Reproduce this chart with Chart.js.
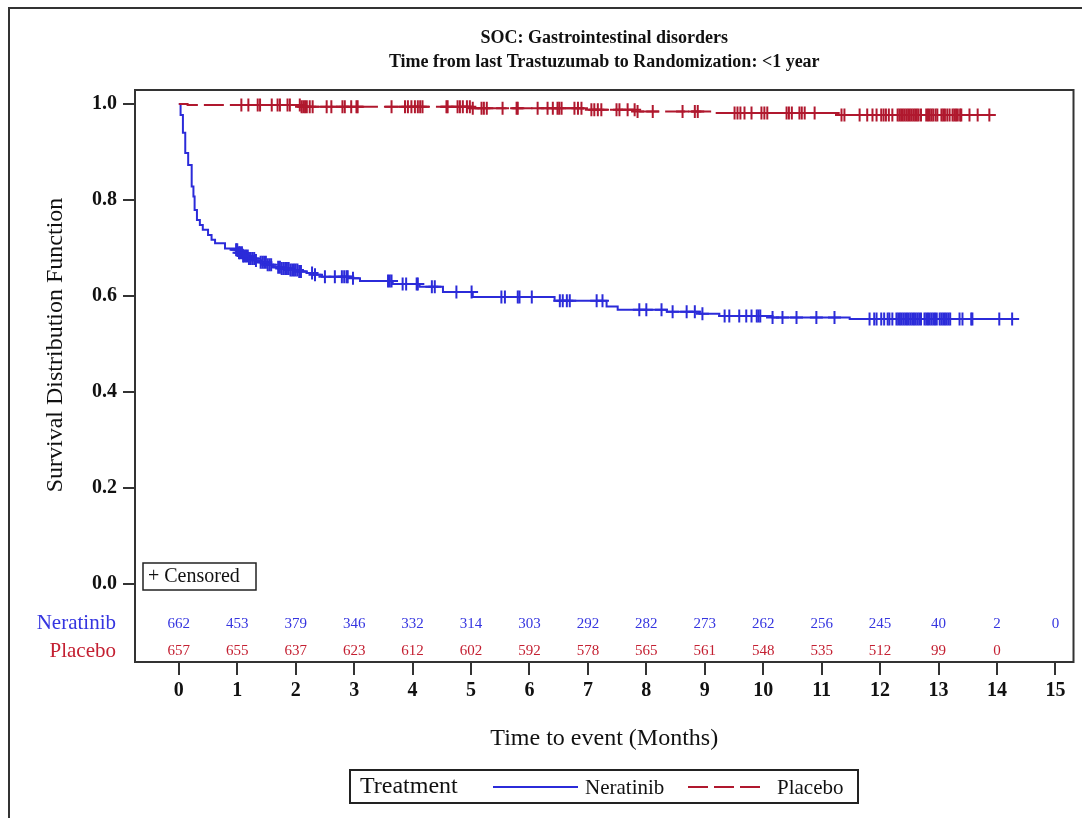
<!DOCTYPE html>
<html>
<head>
<meta charset="utf-8">
<script src="https://cdn.jsdelivr.net/npm/chart.js@4.4.1/dist/chart.umd.min.js"></script>
<style>
    body { margin: 0; background: #fff; }
    canvas { display: block; }
</style>
</head>
<body>
<canvas id="km" width="1082" height="818"></canvas>
<script>
// Hodnoty
const months = [0, 1, 2, 3, 4, 5, 6, 7, 8, 9, 10, 11, 12, 13, 14, 15];
const yTicks = [0, 0.2, 0.4, 0.6, 0.8, 1.0];

const neratinibTime = [0, 0.03, 0.07, 0.11, 0.16, 0.22, 0.25, 0.27, 0.31, 0.36, 0.41, 0.50, 0.56, 0.62, 0.79, 0.96,
    1.01, 1.10, 1.20, 1.30, 1.40, 1.51, 1.61, 1.75, 1.90, 2.05, 2.19, 2.29, 2.45, 2.98, 3.10, 3.66, 4.12, 4.52,
    5.03, 6.43, 7.32, 7.51, 8.35, 8.91, 9.25, 10.16, 11.48, 14.38];
const neratinibSurv = [1.0, 0.977, 0.94, 0.898, 0.873, 0.828, 0.807, 0.779, 0.758, 0.748, 0.738, 0.727, 0.717, 0.710, 0.699, 0.696,
    0.690, 0.683, 0.678, 0.674, 0.670, 0.665, 0.660, 0.657, 0.654, 0.651, 0.648, 0.644, 0.640, 0.637, 0.631, 0.625, 0.619, 0.608,
    0.598, 0.590, 0.578, 0.571, 0.567, 0.563, 0.558, 0.555, 0.552, 0.552];

const placeboTime = [0, 0.15, 2.10, 5.00, 6.92, 7.83, 9.17, 11.33, 13.90];
const placeboSurv = [1.0, 0.998, 0.994, 0.991, 0.988, 0.984, 0.981, 0.977, 0.977];

const neratinibCensored = [0.98, 1.00, 1.03, 1.05, 1.08, 1.10, 1.12, 1.15, 1.18, 1.20, 1.23, 1.26, 1.29, 1.32,
    1.40, 1.43, 1.46, 1.49, 1.52, 1.55, 1.58, 1.70, 1.73, 1.76, 1.79, 1.82, 1.85, 1.88, 1.91, 1.94, 1.97, 2.00,
    2.03, 2.06, 2.09, 2.28, 2.33, 2.50, 2.67, 2.79, 2.83, 2.87, 2.89, 2.98, 3.58, 3.61, 3.64, 3.83, 3.89, 4.07,
    4.09, 4.33, 4.38, 4.75, 5.01, 5.52, 5.58, 5.80, 5.83, 6.04, 6.52, 6.57, 6.64, 6.69, 7.15, 7.25, 7.88, 8.00,
    8.26, 8.45, 8.69, 8.83, 8.96, 9.34, 9.42, 9.59, 9.71, 9.80, 9.89, 9.92, 9.95, 10.16, 10.33, 10.57, 10.91,
    11.22, 11.82, 11.90, 11.94, 12.02, 12.07, 12.13, 12.16, 12.21, 12.28, 12.31, 12.34, 12.37, 12.40, 12.43,
    12.46, 12.49, 12.52, 12.55, 12.58, 12.61, 12.64, 12.67, 12.70, 12.76, 12.79, 12.82, 12.85, 12.88, 12.91,
    12.94, 12.97, 13.02, 13.05, 13.08, 13.11, 13.14, 13.17, 13.20, 13.36, 13.41, 13.56, 13.58, 14.04, 14.26];

const placeboCensored = [1.07, 1.19, 1.35, 1.39, 1.59, 1.69, 1.73, 1.86, 1.90, 2.07, 2.10, 2.13, 2.16, 2.19, 2.24,
    2.29, 2.53, 2.61, 2.80, 2.84, 2.95, 3.04, 3.06, 3.64, 3.87, 3.92, 3.98, 4.04, 4.09, 4.13, 4.17, 4.58, 4.60,
    4.77, 4.81, 4.86, 4.93, 4.98, 5.03, 5.18, 5.22, 5.27, 5.54, 5.78, 5.80, 6.14, 6.31, 6.40, 6.48, 6.51, 6.55,
    6.77, 6.83, 6.89, 7.06, 7.11, 7.17, 7.23, 7.49, 7.54, 7.68, 7.80, 7.85, 8.11, 8.62, 8.83, 8.88, 9.51, 9.56,
    9.61, 9.68, 9.80, 9.97, 10.02, 10.07, 10.40, 10.44, 10.49, 10.62, 10.66, 10.71, 10.88, 11.34, 11.39, 11.65,
    11.78, 11.87, 11.94, 12.02, 12.06, 12.10, 12.15, 12.21, 12.30, 12.33, 12.36, 12.39, 12.42, 12.45, 12.48,
    12.51, 12.54, 12.57, 12.60, 12.63, 12.66, 12.70, 12.79, 12.82, 12.85, 12.88, 12.91, 12.95, 12.98, 13.05,
    13.08, 13.11, 13.15, 13.19, 13.24, 13.27, 13.30, 13.33, 13.37, 13.39, 13.53, 13.67, 13.87];

const neratinibAtRisk = [662, 453, 379, 346, 332, 314, 303, 292, 282, 273, 262, 256, 245, 40, 2, 0];
const placeboAtRisk = [657, 655, 637, 623, 612, 602, 592, 578, 565, 561, 548, 535, 512, 99, 0];

const blue = "#2b2bd9";
const red = "#b0182e";
const serif = "'Liberation Serif', 'DejaVu Serif', serif";

function survivalAt(times, surv, t) {
    let s = surv[0];
    for (let i = 0; i < times.length; i++) {
        if (times[i] <= t) s = surv[i];
    }
    return s;
}

function toPoints(times, surv) {
    return times.map((t, i) => ({ x: t, y: surv[i] }));
}

function censorPoints(list, times, surv) {
    return list.map(t => ({ x: t, y: survivalAt(times, surv, t) }));
}

// Rámečky, titulky, tabulka rizika a legenda
const decorations = {
    id: "decorations",
    afterDraw(chart) {
        const ctx = chart.ctx;
        const area = chart.chartArea;
        const xScale = chart.scales.x;
        ctx.save();

        ctx.strokeStyle = "#333";
        ctx.lineWidth = 2;
        ctx.strokeRect(9, 8, 1100, 900);
        ctx.strokeRect(area.left, area.top, area.right - area.left, area.bottom - area.top);

        const mid = (area.left + area.right) / 2;
        ctx.fillStyle = "#111";
        ctx.textAlign = "center";
        ctx.textBaseline = "middle";
        ctx.font = "bold 18px " + serif;
        ctx.fillText("SOC: Gastrointestinal disorders", mid, 38);
        ctx.fillText("Time from last Trastuzumab to Randomization: <1 year", mid, 62);

        ctx.font = "24px " + serif;
        ctx.fillText("Time to event (Months)", mid, 739);
        ctx.save();
        ctx.translate(56, 345);
        ctx.rotate(-Math.PI / 2);
        ctx.fillText("Survival Distribution Function", 0, 0);
        ctx.restore();

        // tabulka počtu v riziku
        ctx.font = "15px " + serif;
        ctx.fillStyle = "#3535e0";
        neratinibAtRisk.forEach((n, i) => ctx.fillText(String(n), xScale.getPixelForValue(months[i]), 624));
        ctx.fillStyle = "#c42032";
        placeboAtRisk.forEach((n, i) => ctx.fillText(String(n), xScale.getPixelForValue(months[i]), 651));

        ctx.textAlign = "right";
        ctx.font = "21px " + serif;
        ctx.fillStyle = "#3535e0";
        ctx.fillText("Neratinib", 116, 623);
        ctx.fillStyle = "#c42032";
        ctx.fillText("Placebo", 116, 651);

        // + Censored
        ctx.strokeStyle = "#222";
        ctx.lineWidth = 1.5;
        ctx.strokeRect(143, 563, 113, 27);
        ctx.textAlign = "left";
        ctx.fillStyle = "#111";
        ctx.font = "20px " + serif;
        ctx.fillText("+ Censored", 148, 577);

        // legenda
        ctx.lineWidth = 2;
        ctx.strokeStyle = "#222";
        ctx.strokeRect(350, 770, 508, 33);
        ctx.font = "24px " + serif;
        ctx.fillText("Treatment", 360, 787);
        ctx.font = "21px " + serif;
        ctx.fillText("Neratinib", 585, 788);
        ctx.fillText("Placebo", 777, 788);
        ctx.beginPath();
        ctx.strokeStyle = blue;
        ctx.moveTo(493, 787);
        ctx.lineTo(578, 787);
        ctx.stroke();
        ctx.beginPath();
        ctx.strokeStyle = red;
        ctx.setLineDash([20, 6]);
        ctx.moveTo(688, 787);
        ctx.lineTo(762, 787);
        ctx.stroke();
        ctx.setLineDash([]);

        ctx.restore();
    }
};

new Chart(document.getElementById("km"), {
    type: "scatter",
    data: {
        datasets: [
            {
                label: "Placebo",
                data: toPoints(placeboTime, placeboSurv),
                showLine: true,
                stepped: "before",
                borderColor: red,
                borderWidth: 2,
                borderDash: [20, 6],
                pointRadius: 0
            },
            {
                label: "Neratinib",
                data: toPoints(neratinibTime, neratinibSurv),
                showLine: true,
                stepped: "before",
                borderColor: blue,
                borderWidth: 2,
                pointRadius: 0
            },
            {
                label: "Placebo censored",
                data: censorPoints(placeboCensored, placeboTime, placeboSurv),
                pointStyle: "cross",
                pointRadius: 6.5,
                borderColor: red,
                borderWidth: 2
            },
            {
                label: "Neratinib censored",
                data: censorPoints(neratinibCensored, neratinibTime, neratinibSurv),
                pointStyle: "cross",
                pointRadius: 6.5,
                borderColor: blue,
                borderWidth: 2
            }
        ]
    },
    options: {
        responsive: false,
        animation: false,
        layout: { padding: { top: 90, right: 8, left: 0, bottom: 0 } },
        plugins: {
            legend: { display: false },
            tooltip: { enabled: false }
        },
        scales: {
            x: {
                type: "linear",
                min: -0.75,
                max: 15.31,
                afterBuildTicks: scale => { scale.ticks = months.map(v => ({ value: v })); },
                afterFit: scale => { scale.height = 156; },
                border: { display: false },
                grid: { drawOnChartArea: false, tickLength: 13, color: "#333", lineWidth: 2 },
                ticks: {
                    autoSkip: false,
                    maxRotation: 0,
                    padding: 4,
                    color: "#111",
                    font: { family: serif, size: 20, weight: "bold" }
                }
            },
            y: {
                min: -0.1625,
                max: 1.029,
                afterBuildTicks: scale => { scale.ticks = yTicks.map(v => ({ value: v })); },
                afterFit: scale => { scale.width = 135; },
                border: { display: false },
                grid: { drawOnChartArea: false, tickLength: 12, color: "#333", lineWidth: 2 },
                ticks: {
                    padding: 6,
                    color: "#111",
                    font: { family: serif, size: 20, weight: "bold" },
                    callback: v => v.toFixed(1)
                }
            }
        }
    },
    plugins: [decorations]
});
</script>
</body>
</html>
